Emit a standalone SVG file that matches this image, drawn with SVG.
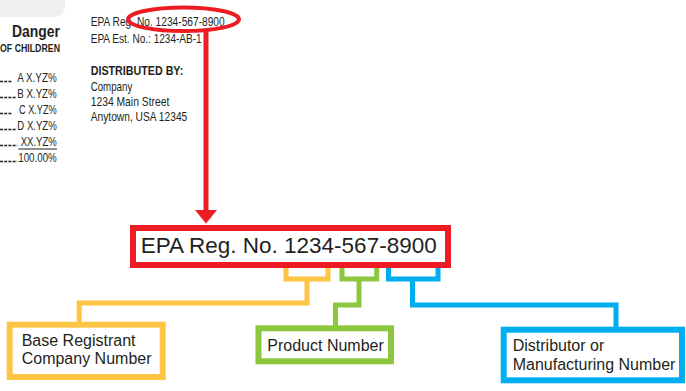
<svg xmlns="http://www.w3.org/2000/svg" width="686" height="391" viewBox="0 0 686 391">
<style>
.t{font-family:"Liberation Sans",Arial,sans-serif;fill:#231f20}
.c{font-size:13px}
.b{font-weight:bold}
.big{font-size:22px}
.lbl{font-size:16px}
.lead{stroke:#231f20;stroke-width:1.4;stroke-dasharray:3 1.2;fill:none}
.conn{fill:none;stroke-width:5;stroke-linejoin:miter;stroke-linecap:butt}
.box{fill:#fff;stroke-width:6}
</style>
<rect width="686" height="391" fill="#fff"/>
<g id="label">
<path d="M0,0 H65 V7 A10,10 0 0 1 55,17 H0 Z" fill="#efefef"/>
<text class="t b" x="60" y="36.7" font-size="17" text-anchor="end" textLength="48" lengthAdjust="spacingAndGlyphs">Danger</text>
<text class="t b" x="60" y="52.3" font-size="10.5" text-anchor="end" textLength="60" lengthAdjust="spacingAndGlyphs">OF CHILDREN</text>
<line class="lead" x1="0" y1="81.5" x2="12" y2="81.5"/>
<text class="t c" x="17.3" y="82" textLength="39.4" lengthAdjust="spacingAndGlyphs">A X.YZ%</text>
<line class="lead" x1="0" y1="97.5" x2="16" y2="97.5"/>
<text class="t c" x="17.3" y="98" textLength="39.4" lengthAdjust="spacingAndGlyphs">B X.YZ%</text>
<line class="lead" x1="0" y1="113.5" x2="12" y2="113.5"/>
<text class="t c" x="19" y="114" textLength="37.7" lengthAdjust="spacingAndGlyphs">C X.YZ%</text>
<line class="lead" x1="0" y1="129.5" x2="16" y2="129.5"/>
<text class="t c" x="17.3" y="130" textLength="39.4" lengthAdjust="spacingAndGlyphs">D X.YZ%</text>
<line class="lead" x1="0" y1="145.5" x2="17.3" y2="145.5"/>
<text class="t c" x="20.7" y="146" textLength="36" lengthAdjust="spacingAndGlyphs">XX.YZ%</text>
<line x1="18.3" y1="149" x2="57" y2="149" stroke="#231f20" stroke-width="1"/>
<line class="lead" x1="0" y1="161.5" x2="17.3" y2="161.5"/>
<text class="t c" x="18.3" y="162" textLength="38.4" lengthAdjust="spacingAndGlyphs">100.00%</text>
<text class="t c" x="90.7" y="26" textLength="134" lengthAdjust="spacingAndGlyphs">EPA Reg. No. 1234-567-8900</text>
<text class="t c" x="90.7" y="42.7" textLength="111" lengthAdjust="spacingAndGlyphs">EPA Est. No.: 1234-AB-1</text>
<text class="t c b" x="90.7" y="75" textLength="92.6" lengthAdjust="spacingAndGlyphs">DISTRIBUTED BY:</text>
<text class="t c" x="90.7" y="90.5" textLength="41.6" lengthAdjust="spacingAndGlyphs">Company</text>
<text class="t c" x="90.7" y="106" textLength="78.6" lengthAdjust="spacingAndGlyphs">1234 Main Street</text>
<text class="t c" x="90.7" y="120.5" textLength="96.6" lengthAdjust="spacingAndGlyphs">Anytown, USA 12345</text>
<ellipse cx="183.5" cy="19.3" rx="55.5" ry="11.8" fill="none" stroke="#ed1c24" stroke-width="4"/>
</g>
<g id="connectors">
<line x1="206" y1="30" x2="206" y2="211" stroke="#ed1c24" stroke-width="5"/>
<polygon points="195,210 217,210 206,223.5" fill="#ed1c24"/>
<path class="conn" stroke="#fec443" d="M286,265 V279 H328 V265 M307,279 V303 H79.2 V324"/>
<path class="conn" stroke="#8dc63f" d="M342,265 V279 H376.7 V265 M359,279 V305 H335.5 V327"/>
<path class="conn" stroke="#00aeef" d="M388.5,265 V279 H438 V265 M412.5,279 V305 H616 V329"/>
</g>
<g id="main">
<rect class="box" x="133" y="228" width="315" height="37" stroke="#ed1c24"/>
<text class="t big" x="140.7" y="253.3" textLength="296" lengthAdjust="spacingAndGlyphs">EPA Reg. No. 1234-567-8900</text>
</g>
<g id="base">
<rect class="box" x="9.7" y="324.7" width="153" height="52.3" stroke="#fec443"/>
<text class="t lbl" x="21.7" y="345.7">Base Registrant</text>
<text class="t lbl" x="21.7" y="364.3">Company Number</text>
</g>
<g id="product">
<rect class="box" x="258.5" y="328.3" width="132.5" height="33" stroke="#8dc63f"/>
<text class="t lbl" x="267.3" y="350.5">Product Number</text>
</g>
<g id="distributor">
<rect class="box" x="503.7" y="329.7" width="178.3" height="50.6" stroke="#00aeef"/>
<text class="t lbl" x="512.7" y="351">Distributor or</text>
<text class="t lbl" x="512.7" y="370">Manufacturing Number</text>
</g>
</svg>
